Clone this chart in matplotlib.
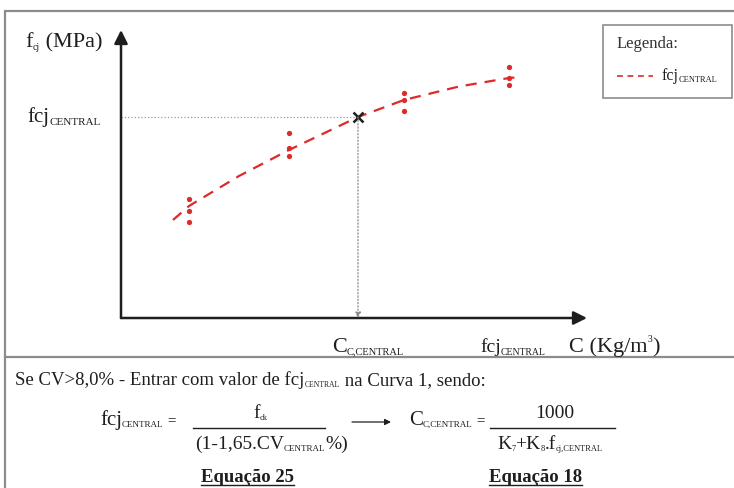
import numpy as np
import matplotlib
matplotlib.use("Agg")
from matplotlib import pyplot as plt
from matplotlib.patches import Rectangle

# cement content C (kg/m3) vs fcj (MPa)
c_groups = [300, 400, 515, 620]
fcj_points = [[23.8, 21.4, 19.2],
              [37.0, 34.0, 32.4],
              [45.0, 43.6, 41.4],
              [50.2, 48.0, 46.6]]
curve_c = [284, 300, 350, 400, 469, 515, 570, 620, 633]
curve_fcj = [19.6, 22.4, 28.4, 33.6, 40.2, 43.6, 46.3, 48.0, 48.2]
c_central = 469
fcj_central = 40.2

SERIF = "Liberation Serif"
RED = "#dd2a2a"
DARK = "#1e1e1e"
FRAME = "#8c8c8c"
W, H = 734, 488

fig = plt.figure(figsize=(W / 100, H / 100), dpi=100)
plt.rcParams["font.family"] = SERIF

# background axes in pixel units for frame, labels and equations
bg = fig.add_axes([0, 0, 1, 1])
bg.set_xlim(0, W)
bg.set_ylim(H, 0)
bg.axis("off")


def rich(x, y, parts, weight="normal"):
    # parts: (text, size, dy in points); laid out left to right on one baseline
    first = bg.text(x, y, parts[0][0], size=parts[0][1], va="baseline",
                    ha="left", color=DARK, weight=weight)
    prev = first
    for s, size, dy in parts[1:]:
        prev = bg.annotate(s, xy=(1, y), xycoords=(prev, "data"),
                           xytext=(0, dy), textcoords="offset points",
                           size=size, va="baseline", ha="left",
                           color=DARK, weight=weight)
    return first, prev


# outer frame and divider
bg.plot([5, 5, W], [H, 11, 11], color=FRAME, lw=1.6, solid_joinstyle="miter")
bg.plot([5, W], [357, 357], color=FRAME, lw=1.6)

# chart axes
ax = fig.add_axes([121 / W, 1 - 318 / H, (587 - 121) / W, (318 - 30) / H])
ax.set_xlim(232, 232 + 466)
ax.set_ylim(0, 288 * 0.2)
ax.axis("off")
ax.patch.set_alpha(0)

arrow = dict(arrowstyle="-|>", lw=1.8, color=DARK, mutation_scale=20,
             shrinkA=0, shrinkB=0)
ax.annotate("", xy=(1, 0), xytext=(0, 0), xycoords="axes fraction",
            arrowprops=arrow, annotation_clip=False)
ax.annotate("", xy=(0, 1), xytext=(0, 0), xycoords="axes fraction",
            arrowprops=arrow, annotation_clip=False)

# guide lines to the central point
ax.plot([232, c_central], [fcj_central, fcj_central], color="#9a9a9a",
        lw=0.9, ls=":")
ax.annotate("", xy=(c_central, 0), xytext=(c_central, fcj_central),
            arrowprops=dict(arrowstyle="-|>", lw=0.9, ls=":", color="#8a8a8a",
                            mutation_scale=8, shrinkA=0, shrinkB=0))

# dashed fcj curve and test points
ax.plot(curve_c, curve_fcj, color=RED, lw=1.6, ls=(0, (5, 3.6)))
for c, vals in zip(c_groups, fcj_points):
    ax.plot([c] * len(vals), vals, "o", color=RED, ms=3.8, mec="none")
ax.plot(c_central, fcj_central, "x", color=DARK, ms=6.5, mew=1.8)

# axis labels
rich(25, 47, [("f", 16, 0), ("cj", 7, -2.5), (" (MPa)", 16, 0)])
rich(27, 122, [("fcj", 15, 0), ("CENTRAL", 8, -2)])
rich(332, 352, [("C", 16, 0), ("C,CENTRAL", 7.5, -2)])
rich(480, 352, [("fcj", 14, 0), ("CENTRAL", 7, -2)])
rich(569, 352, [("C (Kg/m", 16, 0), ("3", 7, 7), (")", 16, 0)])

# legend
bg.add_patch(Rectangle((603, 25), 129, 73, fill=False, ec=FRAME, lw=1.2))
bg.text(617, 48, "Legenda:", size=12, va="baseline", color="#333333")
bg.plot([617, 653], [76, 76], color=RED, lw=1.2, ls=(0, (3.5, 2.8)))
rich(662, 80, [("fcj", 11.5, 0), ("CENTRAL", 6, -1.5)])

# note and equations
rich(15, 385, [("Se CV>8,0% - Entrar com valor de fcj", 13.5, 0),
               ("CENTRAL", 5.5, -1.5), (" na Curva 1, sendo:", 13.5, 0)])

rich(100, 425, [("fcj", 15, 0), ("CENTRAL", 6.5, -1.5), (" =", 11, 0)])
bg.plot([193, 325], [428, 428], color=DARK, lw=1)
rich(253, 418, [("f", 14, 0), ("ck", 6, -1.5)])
rich(195, 449, [("(1-1,65.CV", 14, 0), ("CENTRAL", 6.5, -1.5), ("%)", 14, 0)])

bg.annotate("", xy=(391, 422), xytext=(352, 422),
            arrowprops=dict(arrowstyle="-|>", lw=0.9, color=DARK,
                            mutation_scale=9, shrinkA=0, shrinkB=0))

rich(409, 425, [("C", 15, 0), ("C,CENTRAL", 6.5, -1.5), (" =", 11, 0)])
bg.plot([490, 615], [428, 428], color=DARK, lw=1)
rich(535, 418, [("1000", 14, 0)])
rich(497, 449, [("K", 14, 0), ("7", 6, -1.5), ("+K", 14, 0), ("8", 6, -1.5),
                (".f", 14, 0), ("cj,CENTRAL", 6, -1.5)])

for x0, label in [(201, "Equação 25"), (489, "Equação 18")]:
    t, _ = rich(x0, 482, [(label, 13.5, 0)], weight="bold")
    fig.canvas.draw()
    bb = t.get_window_extent().transformed(bg.transData.inverted())
    bg.plot([bb.x0, bb.x1], [485, 485], color=DARK, lw=1)

fig.savefig("out.png", dpi=100)
